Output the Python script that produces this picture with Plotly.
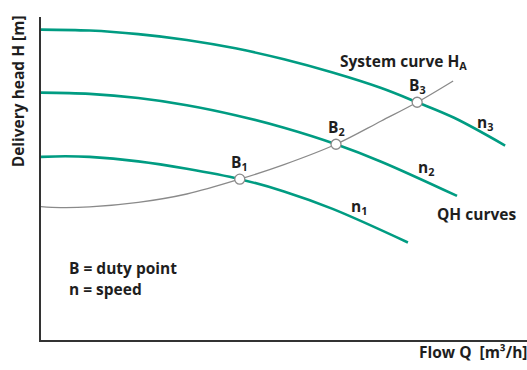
import plotly.graph_objects as go

# Pump QH curves at three speeds (flow Q, delivery head H, arbitrary units)
q_n3 = [0, 1, 2, 3, 4, 5, 6, 7, 7.74, 8.5, 9.55]
h_n3 = [9.61, 9.58, 9.47, 9.29, 9.03, 8.69, 8.28, 7.80, 7.36, 6.88, 6.02]

q_n2 = [0, 1, 2, 3, 4, 5, 6.07, 7, 8.56]
h_n2 = [7.66, 7.62, 7.49, 7.27, 6.96, 6.57, 6.06, 5.52, 4.46]

q_n1 = [0, 0.5, 1, 2, 3, 4.09, 5, 6, 7.55]
h_n1 = [5.67, 5.69, 5.67, 5.53, 5.30, 4.98, 4.60, 4.06, 3.02]

# System curve H_A
q_sys = [0, 0.4, 1, 2, 3, 4.09, 5, 6.07, 7, 7.74, 8.48]
h_sys = [4.13, 4.10, 4.12, 4.26, 4.52, 4.98, 5.43, 6.06, 6.78, 7.36, 8.02]

# Duty points where the system curve meets each QH curve
duty_names = ["B<sub>1</sub>", "B<sub>2</sub>", "B<sub>3</sub>"]
duty_q = [4.09, 6.07, 7.74]
duty_h = [4.98, 6.06, 7.36]

GREEN = "#009c82"
GREY = "#8a8a8a"
INK = "#1e1e1e"
FONT = dict(family="Open Sans", size=15.5, color=INK)


def bold(s):
    return "<b>" + s + "</b>"


fig = go.Figure()

for q, h in [(q_n1, h_n1), (q_n2, h_n2), (q_n3, h_n3)]:
    fig.add_trace(go.Scatter(x=q, y=h, mode="lines",
                             line=dict(color=GREEN, width=2.6, shape="spline"),
                             hoverinfo="skip"))

fig.add_trace(go.Scatter(x=q_sys, y=h_sys, mode="lines",
                         line=dict(color=GREY, width=1.3, shape="spline"),
                         hoverinfo="skip"))

fig.add_trace(go.Scatter(x=duty_q, y=duty_h, mode="markers",
                         marker=dict(size=10, color="white",
                                     line=dict(color=GREY, width=1.3)),
                         hoverinfo="skip"))

annotations = []
for name, q, h in zip(duty_names, duty_q, duty_h):
    annotations.append(dict(x=q, y=h, text=bold(name), showarrow=False,
                            xanchor="center", yanchor="bottom", yshift=3,
                            font=FONT))

# Speed labels next to each QH curve
for text, x, y in [("n<sub>3</sub>", 9.14, 6.72),
                   ("n<sub>2</sub>", 7.92, 5.33),
                   ("n<sub>1</sub>", 6.54, 4.12)]:
    annotations.append(dict(x=x, y=y, text=bold(text), showarrow=False,
                            xanchor="center", yanchor="middle", font=FONT))

annotations += [
    dict(x=6.11, y=8.62, text=bold("System curve H<sub>A</sub>"), xanchor="left",
         yanchor="middle", showarrow=False, font=FONT),
    dict(x=8.11, y=3.90, text=bold("QH curves"), xanchor="left",
         yanchor="middle", showarrow=False, font=FONT),
    dict(x=0.535, y=2.23, text=bold("B = duty point"), xanchor="left",
         yanchor="middle", showarrow=False, font=FONT),
    dict(x=0.535, y=1.58, text=bold("n = speed"), xanchor="left",
         yanchor="middle", showarrow=False, font=FONT),
    # Axis titles sit outside the plot area, so they use paper coordinates
    dict(x=0.774, y=-0.037, xref="paper", yref="paper",
         text=bold("Flow Q  [m³/h]"), xanchor="left", yanchor="middle",
         showarrow=False, font=FONT),
    dict(x=-0.0473, y=0.77, xref="paper", yref="paper",
         text=bold("Delivery head H [m]"), textangle=-90,
         xanchor="center", yanchor="middle", showarrow=False, font=FONT),
]

fig.update_layout(
    width=527, height=370,
    margin=dict(l=41, r=0, t=17, b=30),
    paper_bgcolor="white", plot_bgcolor="white",
    showlegend=False,
    annotations=annotations,
    xaxis=dict(range=[0, 10], showline=True, linecolor="#333333", linewidth=1.8,
               showgrid=False, zeroline=False, showticklabels=False, ticks=""),
    yaxis=dict(range=[0, 10], showline=True, linecolor="#333333", linewidth=1.8,
               showgrid=False, zeroline=False, showticklabels=False, ticks=""),
)

fig.write_html("out.html")
